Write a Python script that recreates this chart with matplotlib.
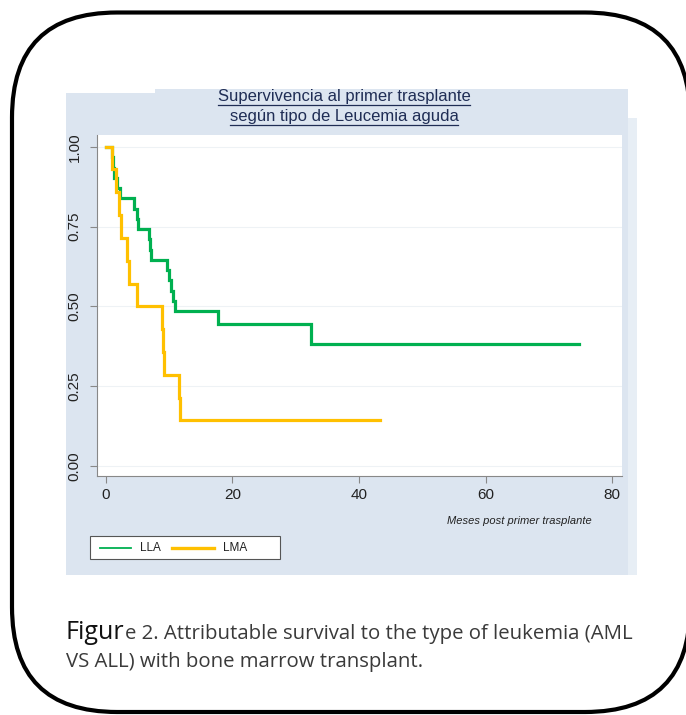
import matplotlib
matplotlib.use("Agg")
import matplotlib.pyplot as plt
from matplotlib.patches import FancyBboxPatch, Rectangle
from matplotlib import font_manager

# Kaplan-Meier step points (months, survival)
lla_t = [0, 1.05, 1.15, 1.3, 1.8, 2.3, 4.4, 4.9, 5.1, 6.8, 7.0, 7.2, 9.7, 10.0, 10.3, 10.6, 11.0, 17.7, 32.5, 74.8]
lla_s = [1.0, 0.968, 0.935, 0.903, 0.871, 0.839, 0.806, 0.774, 0.742, 0.710, 0.677, 0.645, 0.613, 0.581, 0.548, 0.516, 0.484, 0.444, 0.381, 0.381]
lma_t = [0, 1.0, 1.6, 2.1, 2.4, 3.4, 3.7, 5.0, 8.9, 9.0, 9.2, 11.65, 11.75, 43.3]
lma_s = [1.0, 0.929, 0.857, 0.786, 0.714, 0.643, 0.571, 0.5, 0.429, 0.357, 0.286, 0.214, 0.143, 0.143]

xticks = [0, 20, 40, 60, 80]
yticks = [0.0, 0.25, 0.5, 0.75, 1.0]
ytick_labels = ["0.00", "0.25", "0.50", "0.75", "1.00"]

names = {f.name for f in font_manager.fontManager.ttflist}
narrow = "Liberation Sans Narrow" if "Liberation Sans Narrow" in names else "Liberation Sans"
arial = "Liberation Sans"

W, H = 686, 715
fig = plt.figure(figsize=(W / 100, H / 100), dpi=100)
fig.patch.set_facecolor("white")

# background layer in pixel coordinates
bg = fig.add_axes([0, 0, 1, 1], zorder=0)
bg.set_xlim(0, W)
bg.set_ylim(H, 0)
bg.axis("off")

bg.add_patch(FancyBboxPatch((12, 12.5), 678, 699.5, boxstyle="round,pad=0,rounding_size=105",
                            fc="white", ec="black", lw=3.0))
bg.add_patch(Rectangle((66, 89), 562, 486, fc="#dce5f0", ec="none"))
bg.add_patch(Rectangle((66, 88.5), 89, 4.5, fc="white", ec="none"))
bg.add_patch(Rectangle((628, 118), 9, 457, fc="#e7eef5", ec="none"))

# caption
bg.text(65, 639, "Figur", fontsize=18, family="Open Sans", color="#111111", va="baseline")
bg.text(125, 639, "e 2. Attributable survival to the type of leukemia (AML",
        fontsize=14.7, family="Open Sans", color="#3a3a3a", va="baseline")
bg.text(66, 667, "VS ALL) with bone marrow transplant.",
        fontsize=14.7, family="Open Sans", color="#3a3a3a", va="baseline")

# legend box
bg.add_patch(Rectangle((90, 536), 190, 23, fc="white", ec="#555555", lw=0.8))
bg.plot([100, 131], [547.5, 547.5], color="#00b050", lw=1.3)
bg.text(140, 548, "LLA", fontsize=8.5, family=narrow, color="#222222", va="center")
bg.plot([172, 214], [547.5, 547.5], color="#ffc000", lw=2.4)
bg.text(223, 548, "LMA", fontsize=8.5, family=narrow, color="#222222", va="center")

# title with underline
title_color = "#1f2d55"
t1 = bg.text(344, 97, "Supervivencia al primer trasplante", fontsize=12, family=arial,
             color=title_color, ha="center", va="center")
t2 = bg.text(344, 117, "según tipo de Leucemia aguda", fontsize=12, family=arial,
             color=title_color, ha="center", va="center")

# main axes
ax = fig.add_axes([97 / W, 1 - 476 / H, 525 / W, 341 / H], zorder=1)
ax.set_facecolor("white")
ax.step(lla_t, lla_s, where="post", color="#00b050", lw=2.3, solid_joinstyle="miter")
ax.step(lma_t, lma_s, where="post", color="#ffc000", lw=2.3, solid_joinstyle="miter")
ax.set_xlim(-1.37, 81.56)
ax.set_ylim(-0.032, 1.037)
ax.set_xticks(xticks)
ax.set_yticks(yticks)
ax.set_yticklabels(ytick_labels, rotation=90, va="center")
for y in yticks:
    ax.axhline(y, color="#eef2f5", lw=0.8, zorder=0)
for s in ["top", "right"]:
    ax.spines[s].set_visible(False)
for s in ["left", "bottom"]:
    ax.spines[s].set_color("#888888")
    ax.spines[s].set_linewidth(0.8)
ax.tick_params(axis="both", direction="out", length=5, width=0.8, color="#888888",
               labelsize=11, labelcolor="#222222")
ax.tick_params(axis="y", pad=6)
for lab in ax.get_xticklabels() + ax.get_yticklabels():
    lab.set_family(arial)

fig.text(592 / W, 1 - 521 / H, "Meses post primer trasplante", fontsize=8, family=narrow,
         style="italic", color="#222222", ha="right", va="center")

# underline title lines
fig.canvas.draw()
r = fig.canvas.get_renderer()
for t in (t1, t2):
    bb = t.get_window_extent(r)
    x0, x1 = bb.x0, bb.x1
    yb = H - bb.y0 + 0.5
    bg.plot([x0, x1], [yb, yb], color=title_color, lw=0.9)

fig.savefig("out.png", dpi=100)
